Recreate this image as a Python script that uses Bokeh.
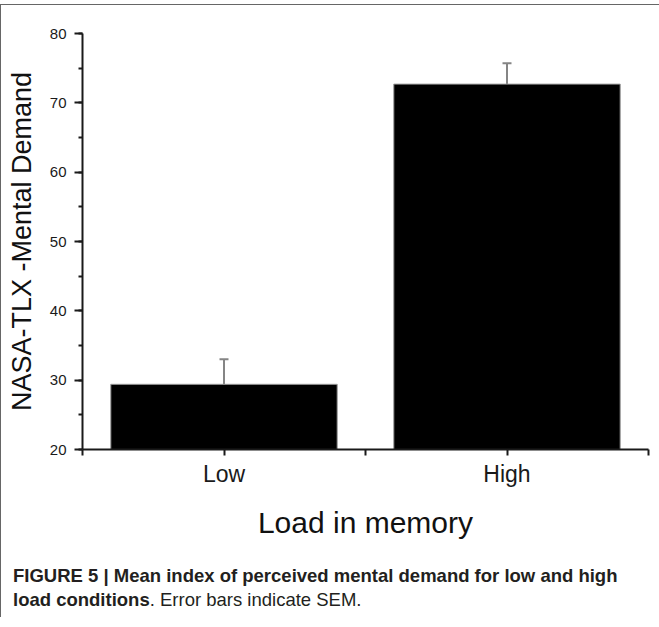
from bokeh.plotting import figure
from bokeh.models import Range1d, FixedTicker, SingleIntervalTicker, Whisker, ColumnDataSource, Div, TeeHead
from bokeh.layouts import column
from bokeh.embed import file_html
from bokeh.resources import INLINE

# ---- data ----
categories = ["Low", "High"]
means = [29.4, 72.7]
sems = [3.6, 3.0]
y_start, y_end = 20, 80
x_title = "Load in memory"
y_title = "NASA-TLX -Mental Demand"
caption_bold = "FIGURE 5 | Mean index of perceived mental demand for low and high"
caption_bold2 = "load conditions"
caption_rest = ". Error bars indicate SEM."

xs = [i + 0.5 for i in range(len(categories))]
src = ColumnDataSource(dict(
    x=xs, mean=means, upper=[m + s for m, s in zip(means, sems)],
))

FONT = "Liberation Sans"

p = figure(width=649, height=547,
           x_range=Range1d(0, len(categories)), y_range=Range1d(y_start, y_end),
           output_backend="svg", toolbar_location=None,
           min_border_left=81, min_border_right=2, min_border_top=28, min_border_bottom=103)
p.outline_line_color = None
p.xgrid.visible = False
p.ygrid.visible = False

p.vbar(x="x", top="mean", bottom=y_start, width=0.8, source=src,
       fill_color="black", line_color="#9a9a9a", line_width=1)

wh = Whisker(base="x", lower="mean", upper="upper", source=src,
             line_color="#858585", line_width=2,
             upper_head=TeeHead(size=9, line_color="#858585", line_width=2),
             lower_head=None)
p.add_layout(wh)

# x axis
p.xaxis.ticker = FixedTicker(ticks=xs, minor_ticks=[i for i in range(len(categories) + 1)])
p.xaxis.major_label_overrides = {x: c for x, c in zip(xs, categories)}
p.xaxis.axis_label = x_title

# y axis
p.yaxis.ticker = SingleIntervalTicker(interval=10, num_minor_ticks=2)
p.yaxis.axis_label = y_title

for ax in (p.xaxis[0], p.yaxis[0]):
    ax.axis_line_color = "#1a1a1a"
    ax.axis_line_width = 2
    ax.major_tick_line_color = "#1a1a1a"
    ax.major_tick_line_width = 2
    ax.minor_tick_line_color = "#1a1a1a"
    ax.minor_tick_line_width = 2
    ax.major_tick_in = 0
    ax.minor_tick_in = 0
    ax.major_label_text_font = FONT
    ax.major_label_text_color = "#1a1a1a"
    ax.axis_label_text_font = FONT
    ax.axis_label_text_font_style = "normal"
    ax.axis_label_text_color = "#111111"

p.xaxis.major_tick_out = 6
p.xaxis.minor_tick_out = 6
p.xaxis.major_label_text_font_size = "23px"
p.xaxis.major_label_standoff = 5
p.xaxis.axis_label_text_font_size = "30px"
p.xaxis.axis_label_standoff = 16

p.yaxis.major_tick_out = 8
p.yaxis.minor_tick_out = 4
p.yaxis.major_label_text_font_size = "15px"
p.yaxis.major_label_standoff = 8
p.yaxis.axis_label_text_font_size = "27px"
p.yaxis.axis_label_standoff = 10

cap = Div(text=(f"<b>{caption_bold}</b><br><b>{caption_bold2}</b>{caption_rest}"),
          width=645,
          styles={"font-family": "'Liberation Sans', Arial, sans-serif",
                  "font-size": "18.5px", "line-height": "24px", "color": "#231f20",
                  "margin-left": "12px", "margin-top": "12px"})

layout = column(p, cap, margin=(4, 0, 0, 0),
                styles={"border-top": "1px solid #666666", "border-left": "1px solid #666666"})

open("out.html", "w").write(file_html(layout, INLINE))
